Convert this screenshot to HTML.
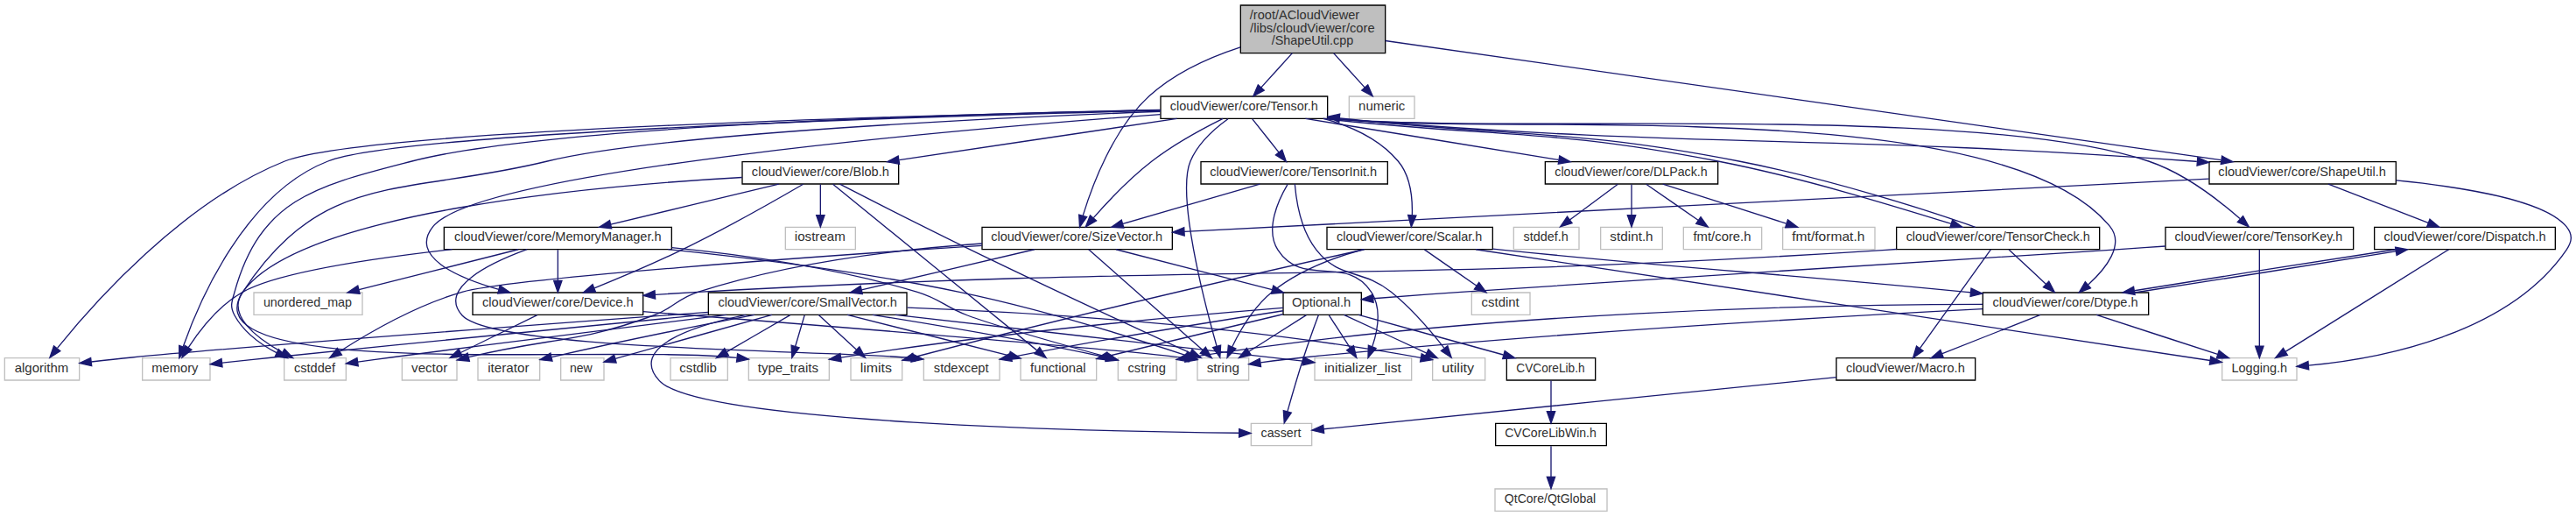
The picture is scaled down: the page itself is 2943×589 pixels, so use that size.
<!DOCTYPE html>
<html><head><meta charset="utf-8"><title>ShapeUtil.cpp include dependency graph</title>
<style>
html,body{margin:0;padding:0;background:#fff;}
body{width:2943px;height:589px;overflow:hidden;}
svg{display:block;}
text{font-family:"Liberation Sans",sans-serif;font-size:10.3px;fill:#303030;text-anchor:middle;}
.e path{fill:none;stroke:#191970;stroke-width:1;}
.e polygon{fill:#191970;stroke:#191970;stroke-width:1;}
</style></head><body>
<svg width="2943" height="589" viewBox="0 0 2207.25 441.75">
<rect x="0" y="0" width="2207.25" height="441.75" fill="#fff"/>
<g transform="translate(4 438)">
<g class="n">
<polygon fill="#bfbfbf" stroke="black" points="1059,-392.5 1059,-433.5 1183,-433.5 1183,-392.5 1059,-392.5"/>
<text lengthAdjust="spacingAndGlyphs" x="1113.88" y="-421.5" textLength="94.07">/root/ACloudViewer</text>
<text lengthAdjust="spacingAndGlyphs" x="1120.48" y="-410.5" textLength="106.88">/libs/cloudViewer/core</text>
<text lengthAdjust="spacingAndGlyphs" x="1120.62" y="-399.5" textLength="70.06">/ShapeUtil.cpp</text>
<polygon fill="white" stroke="black" points="1889,-280.5 1889,-299.5 2049,-299.5 2049,-280.5 1889,-280.5"/>
<text lengthAdjust="spacingAndGlyphs" x="1968.62" y="-287.5" textLength="143.73">cloudViewer/core/ShapeUtil.h</text>
<polygon fill="white" stroke="black" points="837.5,-224.5 837.5,-243.5 1000.5,-243.5 1000.5,-224.5 837.5,-224.5"/>
<text lengthAdjust="spacingAndGlyphs" x="918.62" y="-231.5" textLength="147">cloudViewer/core/SizeVector.h</text>
<polygon fill="white" stroke="#bfbfbf" points="1152,-336.5 1152,-355.5 1208,-355.5 1208,-336.5 1152,-336.5"/>
<text lengthAdjust="spacingAndGlyphs" x="1180" y="-343.5" textLength="39.81">numeric</text>
<polygon fill="white" stroke="black" points="990.5,-336.5 990.5,-355.5 1133.5,-355.5 1133.5,-336.5 990.5,-336.5"/>
<text lengthAdjust="spacingAndGlyphs" x="1062" y="-343.5" textLength="126.76">cloudViewer/core/Tensor.h</text>
<polygon fill="white" stroke="#bfbfbf" points="1900,-112.5 1900,-131.5 1964,-131.5 1964,-112.5 1900,-112.5"/>
<text lengthAdjust="spacingAndGlyphs" x="1932" y="-119.5" textLength="47.81">Logging.h</text>
<polygon fill="white" stroke="black" points="2030.5,-224.5 2030.5,-243.5 2185.5,-243.5 2185.5,-224.5 2030.5,-224.5"/>
<text lengthAdjust="spacingAndGlyphs" x="2108" y="-231.5" textLength="138.91">cloudViewer/core/Dispatch.h</text>
<polygon fill="white" stroke="black" points="1695,-168.5 1695,-187.5 1837,-187.5 1837,-168.5 1695,-168.5"/>
<text lengthAdjust="spacingAndGlyphs" x="1765.62" y="-175.5" textLength="124.67">cloudViewer/core/Dtype.h</text>
<polygon fill="white" stroke="#bfbfbf" points="954,-112.5 954,-131.5 1004,-131.5 1004,-112.5 954,-112.5"/>
<text lengthAdjust="spacingAndGlyphs" x="978.62" y="-119.5" textLength="32.5">cstring</text>
<polygon fill="white" stroke="#bfbfbf" points="1022,-112.5 1022,-131.5 1066,-131.5 1066,-112.5 1022,-112.5"/>
<text lengthAdjust="spacingAndGlyphs" x="1044" y="-119.5" textLength="27.9">string</text>
<polygon fill="white" stroke="black" points="1569.5,-112.5 1569.5,-131.5 1688.5,-131.5 1688.5,-112.5 1569.5,-112.5"/>
<text lengthAdjust="spacingAndGlyphs" x="1628.62" y="-119.5" textLength="101.89">cloudViewer/Macro.h</text>
<polygon fill="white" stroke="#bfbfbf" points="1068,-56.5 1068,-75.5 1120,-75.5 1120,-56.5 1068,-56.5"/>
<text lengthAdjust="spacingAndGlyphs" x="1093.62" y="-63.5" textLength="34.47">cassert</text>
<polygon fill="white" stroke="black" points="1095.5,-168.5 1095.5,-187.5 1162.5,-187.5 1162.5,-168.5 1095.5,-168.5"/>
<text lengthAdjust="spacingAndGlyphs" x="1128.25" y="-175.5" textLength="50.35">Optional.h</text>
<polygon fill="white" stroke="#bfbfbf" points="239.5,-112.5 239.5,-131.5 292.5,-131.5 292.5,-112.5 239.5,-112.5"/>
<text lengthAdjust="spacingAndGlyphs" x="265.62" y="-119.5" textLength="35.21">cstddef</text>
<polygon fill="white" stroke="#bfbfbf" points="340.5,-112.5 340.5,-131.5 387.5,-131.5 387.5,-112.5 340.5,-112.5"/>
<text lengthAdjust="spacingAndGlyphs" x="364" y="-119.5" textLength="30.83">vector</text>
<polygon fill="white" stroke="black" points="603,-168.5 603,-187.5 773,-187.5 773,-168.5 603,-168.5"/>
<text lengthAdjust="spacingAndGlyphs" x="688" y="-175.5" textLength="153.3">cloudViewer/core/SmallVector.h</text>
<polygon fill="white" stroke="black" points="1287,-112.5 1287,-131.5 1363,-131.5 1363,-112.5 1287,-112.5"/>
<text lengthAdjust="spacingAndGlyphs" x="1324.62" y="-119.5" textLength="58.72">CVCoreLib.h</text>
<polygon fill="white" stroke="#bfbfbf" points="870.5,-112.5 870.5,-131.5 935.5,-131.5 935.5,-112.5 870.5,-112.5"/>
<text lengthAdjust="spacingAndGlyphs" x="902.62" y="-119.5" textLength="47.61">functional</text>
<polygon fill="white" stroke="#bfbfbf" points="1122.5,-112.5 1122.5,-131.5 1205.5,-131.5 1205.5,-112.5 1122.5,-112.5"/>
<text lengthAdjust="spacingAndGlyphs" x="1163.62" y="-119.5" textLength="65.89">initializer_list</text>
<polygon fill="white" stroke="#bfbfbf" points="787.5,-112.5 787.5,-131.5 852.5,-131.5 852.5,-112.5 787.5,-112.5"/>
<text lengthAdjust="spacingAndGlyphs" x="819.62" y="-119.5" textLength="46.99">stdexcept</text>
<polygon fill="white" stroke="#bfbfbf" points="637.5,-112.5 637.5,-131.5 706.5,-131.5 706.5,-112.5 637.5,-112.5"/>
<text lengthAdjust="spacingAndGlyphs" x="671.25" y="-119.5" textLength="51.91">type_traits</text>
<polygon fill="white" stroke="#bfbfbf" points="1223.5,-112.5 1223.5,-131.5 1268.5,-131.5 1268.5,-112.5 1223.5,-112.5"/>
<text lengthAdjust="spacingAndGlyphs" x="1245.25" y="-119.5" textLength="27.64">utility</text>
<polygon fill="white" stroke="black" points="1277.5,-56.5 1277.5,-75.5 1372.5,-75.5 1372.5,-56.5 1277.5,-56.5"/>
<text lengthAdjust="spacingAndGlyphs" x="1324.62" y="-63.5" textLength="78.48">CVCoreLibWin.h</text>
<polygon fill="white" stroke="#bfbfbf" points="1277,-0.5 1277,-19.5 1373,-19.5 1373,-0.5 1277,-0.5"/>
<text lengthAdjust="spacingAndGlyphs" x="1324.25" y="-7.5" textLength="78.2">QtCore/QtGlobal</text>
<polygon fill="white" stroke="#bfbfbf" points="0,-112.5 0,-131.5 64,-131.5 64,-112.5 0,-112.5"/>
<text lengthAdjust="spacingAndGlyphs" x="31.62" y="-119.5" textLength="46.16">algorithm</text>
<polygon fill="white" stroke="#bfbfbf" points="570.5,-112.5 570.5,-131.5 619.5,-131.5 619.5,-112.5 570.5,-112.5"/>
<text lengthAdjust="spacingAndGlyphs" x="594.25" y="-119.5" textLength="31.96">cstdlib</text>
<polygon fill="white" stroke="#bfbfbf" points="405.5,-112.5 405.5,-131.5 458.5,-131.5 458.5,-112.5 405.5,-112.5"/>
<text lengthAdjust="spacingAndGlyphs" x="431.62" y="-119.5" textLength="35.45">iterator</text>
<polygon fill="white" stroke="#bfbfbf" points="725,-112.5 725,-131.5 769,-131.5 769,-112.5 725,-112.5"/>
<text lengthAdjust="spacingAndGlyphs" x="746.62" y="-119.5" textLength="27.19">limits</text>
<polygon fill="white" stroke="#bfbfbf" points="118,-112.5 118,-131.5 176,-131.5 176,-112.5 118,-112.5"/>
<text lengthAdjust="spacingAndGlyphs" x="145.88" y="-119.5" textLength="39.86">memory</text>
<polygon fill="white" stroke="#bfbfbf" points="476.5,-112.5 476.5,-131.5 513.5,-131.5 513.5,-112.5 476.5,-112.5"/>
<text lengthAdjust="spacingAndGlyphs" x="493.88" y="-119.5" textLength="19.34">new</text>
<polygon fill="white" stroke="black" points="632,-280.5 632,-299.5 766,-299.5 766,-280.5 632,-280.5"/>
<text lengthAdjust="spacingAndGlyphs" x="699" y="-287.5" textLength="117.7">cloudViewer/core/Blob.h</text>
<polygon fill="white" stroke="black" points="401,-168.5 401,-187.5 547,-187.5 547,-168.5 401,-168.5"/>
<text lengthAdjust="spacingAndGlyphs" x="474" y="-175.5" textLength="129.46">cloudViewer/core/Device.h</text>
<polygon fill="white" stroke="black" points="1320,-280.5 1320,-299.5 1468,-299.5 1468,-280.5 1320,-280.5"/>
<text lengthAdjust="spacingAndGlyphs" x="1393.62" y="-287.5" textLength="130.72">cloudViewer/core/DLPack.h</text>
<polygon fill="white" stroke="black" points="1133,-224.5 1133,-243.5 1275,-243.5 1275,-224.5 1133,-224.5"/>
<text lengthAdjust="spacingAndGlyphs" x="1203.62" y="-231.5" textLength="124.7">cloudViewer/core/Scalar.h</text>
<polygon fill="white" stroke="black" points="1621,-224.5 1621,-243.5 1795,-243.5 1795,-224.5 1621,-224.5"/>
<text lengthAdjust="spacingAndGlyphs" x="1708" y="-231.5" textLength="157.55">cloudViewer/core/TensorCheck.h</text>
<polygon fill="white" stroke="black" points="1025,-280.5 1025,-299.5 1185,-299.5 1185,-280.5 1025,-280.5"/>
<text lengthAdjust="spacingAndGlyphs" x="1104.25" y="-287.5" textLength="143.19">cloudViewer/core/TensorInit.h</text>
<polygon fill="white" stroke="black" points="1851.5,-224.5 1851.5,-243.5 2012.5,-243.5 2012.5,-224.5 1851.5,-224.5"/>
<text lengthAdjust="spacingAndGlyphs" x="1931.25" y="-231.5" textLength="143.89">cloudViewer/core/TensorKey.h</text>
<polygon fill="white" stroke="#bfbfbf" points="669,-224.5 669,-243.5 729,-243.5 729,-224.5 669,-224.5"/>
<text lengthAdjust="spacingAndGlyphs" x="698.62" y="-231.5" textLength="43.46">iostream</text>
<polygon fill="white" stroke="black" points="376.5,-224.5 376.5,-243.5 571.5,-243.5 571.5,-224.5 376.5,-224.5"/>
<text lengthAdjust="spacingAndGlyphs" x="474" y="-231.5" textLength="177.46">cloudViewer/core/MemoryManager.h</text>
<polygon fill="white" stroke="#bfbfbf" points="213.5,-168.5 213.5,-187.5 306.5,-187.5 306.5,-168.5 213.5,-168.5"/>
<text lengthAdjust="spacingAndGlyphs" x="259.62" y="-175.5" textLength="75.88">unordered_map</text>
<polygon fill="white" stroke="#bfbfbf" points="1293,-224.5 1293,-243.5 1349,-243.5 1349,-224.5 1293,-224.5"/>
<text lengthAdjust="spacingAndGlyphs" x="1320.62" y="-231.5" textLength="38.41">stddef.h</text>
<polygon fill="white" stroke="#bfbfbf" points="1367.5,-224.5 1367.5,-243.5 1420.5,-243.5 1420.5,-224.5 1367.5,-224.5"/>
<text lengthAdjust="spacingAndGlyphs" x="1394" y="-231.5" textLength="36.96">stdint.h</text>
<polygon fill="white" stroke="#bfbfbf" points="1438.5,-224.5 1438.5,-243.5 1505.5,-243.5 1505.5,-224.5 1438.5,-224.5"/>
<text lengthAdjust="spacingAndGlyphs" x="1471.62" y="-231.5" textLength="49.53">fmt/core.h</text>
<polygon fill="white" stroke="#bfbfbf" points="1523.5,-224.5 1523.5,-243.5 1602.5,-243.5 1602.5,-224.5 1523.5,-224.5"/>
<text lengthAdjust="spacingAndGlyphs" x="1562.62" y="-231.5" textLength="62.4">fmt/format.h</text>
<polygon fill="white" stroke="#bfbfbf" points="1257,-168.5 1257,-187.5 1307,-187.5 1307,-168.5 1257,-168.5"/>
<text lengthAdjust="spacingAndGlyphs" x="1281.62" y="-175.5" textLength="32.31">cstdint</text>
</g>
<g class="e">
<path d="M1183.01,-403.15C1337.13,-381.16 1736.74,-324.14 1898.99,-300.99"/><polygon points="1899.92,-304.39 1909.33,-299.51 1898.94,-297.46 1899.92,-304.39"/>
<path d="M1058.87,-397.64C1032.44,-389.05 1002.77,-375.83 981,-356 949.7,-327.49 931.82,-279.52 923.93,-253.37"/><polygon points="927.25,-252.27 921.14,-243.61 920.52,-254.19 927.25,-252.27"/>
<path d="M1138.7,-392.5C1147.23,-383.11 1157.32,-371.98 1165.4,-363.08"/><polygon points="1168.02,-365.41 1172.15,-355.65 1162.83,-360.7 1168.02,-365.41"/>
<path d="M1103.3,-392.5C1094.77,-383.11 1084.68,-371.98 1076.6,-363.08"/><polygon points="1079.17,-360.7 1069.85,-355.65 1073.98,-365.41 1079.17,-360.7"/>
<path d="M2049.24,-283.6C2106.54,-277.88 2176.6,-266.42 2195,-244 2200.64,-237.13 2200.03,-231.33 2195,-224 2144.99,-151.22 2034.69,-130.86 1974.03,-125.18"/><polygon points="1974.28,-121.69 1964.02,-124.34 1973.69,-128.67 1974.28,-121.69"/>
<path d="M1991.02,-280.44C2014.1,-271.48 2050.56,-257.31 2076.64,-247.18"/><polygon points="2078.02,-250.4 2086.08,-243.52 2075.49,-243.88 2078.02,-250.4"/>
<path d="M1888.79,-284.87C1697.14,-275.02 1213.58,-250.15 1010.76,-239.72"/><polygon points="1010.9,-236.22 1000.74,-239.2 1010.54,-243.21 1010.9,-236.22"/>
<path d="M2094.19,-224.37C2063.86,-205.41 1991.2,-160 1954.31,-136.94"/><polygon points="1956.08,-133.92 1945.75,-131.59 1952.37,-139.86 1956.08,-133.92"/>
<path d="M2048.72,-224.44C1985.96,-214.87 1887.62,-199.36 1824.98,-189.17"/><polygon points="1825.29,-185.67 1814.86,-187.52 1824.16,-192.58 1825.29,-185.67"/>
<path d="M1792.3,-168.44C1820.35,-159.32 1864.94,-144.81 1896.18,-134.65"/><polygon points="1897.39,-137.94 1905.82,-131.52 1895.23,-131.28 1897.39,-137.94"/>
<path d="M1825.02,-187.52C1887.68,-197.08 1986.02,-212.59 2048.76,-222.79"/><polygon points="2048.46,-226.29 2058.9,-224.44 2049.59,-219.38 2048.46,-226.29"/>
<path d="M1694.89,-177.44C1562.47,-177.25 1269.13,-172.01 1014.32,-131.88"/><polygon points="1014.56,-128.37 1004.13,-130.25 1013.45,-135.28 1014.56,-128.37"/>
<path d="M1694.86,-173.52C1574.75,-167.32 1324.17,-153.03 1113,-132 1100.94,-130.8 1087.74,-129.16 1076.14,-127.61"/><polygon points="1076.41,-124.11 1066.02,-126.22 1075.46,-131.04 1076.41,-124.11"/>
<path d="M1744.29,-168.44C1721.65,-159.52 1685.93,-145.44 1660.25,-135.32"/><polygon points="1661.19,-131.93 1650.61,-131.52 1658.63,-138.44 1661.19,-131.93"/>
<path d="M1569.44,-114.99C1457.97,-103.74 1220.89,-79.81 1130.26,-70.66"/><polygon points="1130.5,-67.17 1120.2,-69.64 1129.8,-74.13 1130.5,-67.17"/>
<path d="M928.81,-224.37C949.89,-205.81 999.78,-161.91 1026.46,-138.44"/><polygon points="1029.04,-140.83 1034.24,-131.59 1024.42,-135.57 1029.04,-140.83"/>
<path d="M952.28,-224.44C988.45,-215.14 1046.38,-200.25 1085.98,-190.06"/><polygon points="1087.07,-193.4 1095.88,-187.52 1085.32,-186.62 1087.07,-193.4"/>
<path d="M837.35,-227.78C700.01,-218.75 433.61,-200 392,-188 352.75,-176.68 311.43,-152.72 287.23,-137.26"/><polygon points="288.83,-134.13 278.54,-131.61 285.01,-140 288.83,-134.13"/>
<path d="M837.47,-229.53C770.67,-224.85 674.39,-213.84 594,-188 575.83,-182.16 573.91,-174.6 556,-168 490.54,-143.89 468.55,-149.33 397.59,-132.26"/><polygon points="398.28,-128.83 387.73,-129.82 396.6,-135.62 398.28,-128.83"/>
<path d="M882.4,-224.44C842.27,-215.06 777.8,-199.99 734.22,-189.8"/><polygon points="734.97,-186.38 724.43,-187.52 733.37,-193.2 734.97,-186.38"/>
<path d="M1115.34,-168.32C1102.08,-159.9 1081.73,-146.97 1066.15,-137.07"/><polygon points="1067.94,-134.06 1057.62,-131.65 1064.19,-139.97 1067.94,-134.06"/>
<path d="M1125.79,-168.42C1122.44,-159.41 1117.14,-144.78 1113,-132 1107.97,-116.44 1102.79,-98.61 1099.12,-85.56"/><polygon points="1102.48,-84.57 1096.42,-75.88 1095.74,-86.45 1102.48,-84.57"/>
<path d="M1160.06,-168.44C1193.6,-159.2 1247.2,-144.44 1284.14,-134.26"/><polygon points="1285.38,-137.55 1294.09,-131.52 1283.52,-130.8 1285.38,-137.55"/>
<path d="M1095.17,-168.92C1055.27,-159.38 988.9,-143.53 945.55,-133.17"/><polygon points="946.14,-129.71 935.6,-130.79 944.51,-136.52 946.14,-129.71"/>
<path d="M1134.78,-168.08C1139.67,-160.53 1146.83,-149.49 1152.83,-140.23"/><polygon points="1155.83,-142.05 1158.33,-131.75 1149.95,-138.24 1155.83,-142.05"/>
<path d="M1095.48,-171.92C1046.48,-164.37 952.2,-149.41 862.69,-132.26"/><polygon points="863.13,-128.78 852.64,-130.32 861.8,-135.65 863.13,-128.78"/>
<path d="M1095.4,-174.41C1026.43,-168.86 863.73,-154.59 716.64,-131.95"/><polygon points="716.95,-128.46 706.53,-130.38 715.88,-135.38 716.95,-128.46"/>
<path d="M1147.54,-168.44C1166.62,-159.64 1196.57,-145.81 1218.44,-135.72"/><polygon points="1219.93,-138.88 1227.55,-131.52 1217,-132.53 1219.93,-138.88"/>
<path d="M1325,-112.08C1325,-105.01 1325,-94.86 1325,-85.99"/><polygon points="1328.5,-85.75 1325,-75.75 1321.5,-85.75 1328.5,-85.75"/>
<path d="M1325,-56.08C1325,-49.01 1325,-38.86 1325,-29.99"/><polygon points="1328.5,-29.75 1325,-19.75 1321.5,-29.75 1328.5,-29.75"/>
<path d="M743.67,-168.49C795.69,-160.24 875.41,-146.82 944,-132 944.1,-131.98 944.2,-131.96 944.3,-131.94"/><polygon points="944.87,-135.4 953.82,-129.72 943.29,-128.58 944.87,-135.4"/>
<path d="M635.21,-168.47C589.45,-158.93 534.43,-140.9 561,-112 594.55,-75.49 943.12,-68.58 1057.71,-67.29"/><polygon points="1057.78,-70.79 1067.74,-67.19 1057.71,-63.79 1057.78,-70.79"/>
<path d="M722.07,-168.44C759.62,-159.01 820.06,-143.83 860.64,-133.64"/><polygon points="861.65,-136.99 870.5,-131.16 859.95,-130.2 861.65,-136.99"/>
<path d="M763.16,-168.47C860.61,-157.42 1028.04,-138.42 1112.33,-128.86"/><polygon points="1112.89,-132.32 1122.43,-127.72 1112.1,-125.37 1112.89,-132.32"/>
<path d="M685.36,-168.08C683.21,-160.85 680.12,-150.41 677.45,-141.4"/><polygon points="680.79,-140.34 674.59,-131.75 674.08,-142.33 680.79,-140.34"/>
<path d="M773.38,-174.64C875.83,-170.71 1052.81,-160.37 1213.34,-131.75"/><polygon points="1214.18,-135.15 1223.4,-129.93 1212.93,-128.27 1214.18,-135.15"/>
<path d="M618.53,-168.5C546.56,-159.63 430.86,-145.21 331,-132 321.81,-130.78 311.89,-129.43 302.64,-128.15"/><polygon points="302.94,-124.66 292.56,-126.75 301.98,-131.59 302.94,-124.66"/>
<path d="M602.74,-170.78C465.69,-160.72 202.33,-141.08 109,-132 97.72,-130.9 85.53,-129.55 74.24,-128.24"/><polygon points="74.53,-124.75 64.19,-127.04 73.71,-131.7 74.53,-124.75"/>
<path d="M673.06,-168.32C658.41,-159.82 635.87,-146.73 618.76,-136.8"/><polygon points="620.31,-133.65 609.9,-131.65 616.8,-139.7 620.31,-133.65"/>
<path d="M642.57,-168.45C599.97,-160.28 534.28,-147.27 468.8,-132.33"/><polygon points="469.25,-128.85 458.72,-130.02 467.68,-135.67 469.25,-128.85"/>
<path d="M697.48,-168.32C706.2,-160.34 719.34,-148.31 729.9,-138.65"/><polygon points="732.33,-141.17 737.35,-131.83 727.61,-136 732.33,-141.17"/>
<path d="M602.72,-168.88C510.72,-160.06 359.94,-145.43 230,-132 215.75,-130.53 200.14,-128.85 186.34,-127.35"/><polygon points="186.51,-123.85 176.19,-126.24 185.75,-130.8 186.51,-123.85"/>
<path d="M657.42,-168.44C620.56,-158.13 559.13,-140.94 523.31,-130.92"/><polygon points="524.08,-127.5 513.5,-128.18 522.19,-134.24 524.08,-127.5"/>
<path d="M1133.53,-336.81C1136.73,-336.52 1139.9,-336.25 1143,-336 1467.69,-310 1550.12,-323.53 1875,-300 1876.12,-299.92 1877.26,-299.84 1878.39,-299.75"/><polygon points="1879.07,-303.21 1888.77,-298.93 1878.52,-296.23 1879.07,-303.21"/>
<path d="M1133.55,-336.97C1136.74,-336.64 1139.9,-336.31 1143,-336 1290.56,-321.13 1710.69,-359.27 1804,-244 1816.63,-228.4 1800.43,-208.13 1785.45,-194.4"/><polygon points="1787.31,-191.38 1777.44,-187.52 1782.75,-196.69 1787.31,-191.38"/>
<path d="M1048.21,-336.19C1037.17,-328.24 1022.5,-315.45 1016,-300 1004.04,-271.56 1027.42,-180.93 1038.56,-141.56"/><polygon points="1041.94,-142.48 1041.34,-131.91 1035.21,-140.55 1041.94,-142.48"/>
<path d="M1043.87,-336.48C1027.27,-328.26 1002.4,-314.91 983,-300 964.08,-285.45 945.25,-265.5 932.97,-251.56"/><polygon points="935.41,-249.03 926.22,-243.75 930.11,-253.6 935.41,-249.03"/>
<path d="M990.35,-342.55C854.15,-337.41 562.74,-323.95 465,-300 342.4,-269.96 273.46,-293.4 204,-188 153.28,-111.05 511.19,-143.44 627.33,-131.69"/><polygon points="627.98,-135.14 637.48,-130.46 627.13,-128.19 627.98,-135.14"/>
<path d="M990.35,-343.91C834.42,-340.99 468.71,-330.96 349,-300 267.76,-278.99 219.61,-268.81 197,-188 194.6,-179.44 192.77,-175.82 197,-168 204.75,-153.7 219.23,-143.22 232.94,-135.99"/><polygon points="234.74,-139.01 242.21,-131.5 231.69,-132.71 234.74,-139.01"/>
<path d="M990.39,-343.69C803.14,-339.91 308.65,-327.41 240,-300 152.31,-264.99 75.19,-177.35 45.25,-140.14"/><polygon points="47.63,-137.5 38.68,-131.83 42.14,-141.85 47.63,-137.5"/>
<path d="M990.38,-343.4C809.21,-339.01 342.44,-325.34 277,-300 206.15,-272.56 166.83,-180.6 152.89,-141.18"/><polygon points="156.15,-139.9 149.62,-131.56 149.52,-142.15 156.15,-139.9"/>
<path d="M1004.48,-336.44C939.83,-326.83 834.97,-311.23 766.5,-301.04"/><polygon points="766.66,-297.53 756.25,-299.52 765.63,-304.45 766.66,-297.53"/>
<path d="M990.27,-340.03C820.59,-327.51 405.82,-292.23 367,-244 346.61,-218.66 386.61,-200.74 423.37,-190.22"/><polygon points="424.37,-193.57 433.1,-187.58 422.53,-186.82 424.37,-193.57"/>
<path d="M1114.61,-336.44C1173.49,-326.87 1268.85,-311.36 1331.49,-301.17"/><polygon points="1332.33,-304.58 1341.64,-299.52 1331.21,-297.67 1332.33,-304.58"/>
<path d="M1129.93,-336.47C1153.49,-330.13 1177.98,-319.11 1194,-300 1204.65,-287.29 1206.43,-268.09 1205.99,-253.85"/><polygon points="1209.47,-253.44 1205.27,-243.71 1202.48,-253.93 1209.47,-253.44"/>
<path d="M1129.74,-336.47C1131.17,-336.31 1132.59,-336.15 1134,-336 1282.42,-319.76 1321.41,-328.32 1468,-300 1539.22,-286.24 1620.42,-261.13 1667.91,-246.47"/><polygon points="1668.99,-249.8 1677.52,-243.51 1666.93,-243.11 1668.99,-249.8"/>
<path d="M1069.1,-336.08C1075.24,-328.38 1084.27,-317.03 1091.74,-307.65"/><polygon points="1094.54,-309.75 1098.03,-299.75 1089.06,-305.39 1094.54,-309.75"/>
<path d="M1133.53,-336.82C1136.73,-336.53 1139.9,-336.25 1143,-336 1296.92,-323.47 1690.7,-349.45 1837,-300 1867.59,-289.66 1897.4,-266.48 1915.24,-250.79"/><polygon points="1917.92,-253.08 1922.99,-243.78 1913.22,-247.89 1917.92,-253.08"/>
<path d="M715.62,-280.43C740.11,-267.84 787.39,-243.72 828,-224 895.05,-191.44 974.64,-154.71 1015.96,-135.79"/><polygon points="1017.49,-138.94 1025.13,-131.6 1014.58,-132.57 1017.49,-138.94"/>
<path d="M709.68,-280.31C742.59,-253.53 842.74,-172.03 884.46,-138.09"/><polygon points="886.88,-140.63 892.43,-131.61 882.46,-135.2 886.88,-140.63"/>
<path d="M631.79,-286.12C508.22,-279.2 253.05,-256.71 204,-188 189.98,-168.37 215.54,-148.73 237.97,-136.26"/><polygon points="239.73,-139.29 246.95,-131.53 236.47,-133.09 239.73,-139.29"/>
<path d="M699,-280.08C699,-273.01 699,-262.86 699,-253.99"/><polygon points="702.5,-253.75 699,-243.75 695.5,-253.75 702.5,-253.75"/>
<path d="M684.22,-280.31C661.96,-267.37 618.35,-242.56 580,-224 555.3,-212.05 526.61,-199.97 505.32,-191.35"/><polygon points="506.38,-188 495.8,-187.52 503.77,-194.5 506.38,-188"/>
<path d="M663.35,-280.44C624.34,-271.08 561.73,-256.06 519.28,-245.87"/><polygon points="520.03,-242.45 509.49,-243.52 518.39,-249.25 520.03,-242.45"/>
<path d="M547.12,-171.28C679.44,-160.89 950.03,-139.38 1011.71,-131.53"/><polygon points="1012.4,-134.96 1021.78,-130.03 1011.37,-128.04 1012.4,-134.96"/>
<path d="M456.33,-168.32C438.61,-159.62 411.1,-146.12 390.71,-136.11"/><polygon points="392.15,-132.92 381.63,-131.65 389.06,-139.2 392.15,-132.92"/>
<path d="M571.63,-226.03C632.99,-219.87 713.26,-208.53 782,-188 802.2,-181.97 805.27,-175.42 825,-168 846.78,-159.81 905.72,-143.14 944.04,-132.55"/><polygon points="945.07,-135.9 953.78,-129.87 943.21,-129.15 945.07,-135.9"/>
<path d="M568.44,-224.49C637.92,-217.3 734.41,-205.37 818,-188 888.31,-173.39 968.7,-148.17 1012.12,-133.82"/><polygon points="1013.44,-137.07 1021.82,-130.59 1011.23,-130.42 1013.44,-137.07"/>
<path d="M447.6,-224.46C416.24,-213 370.71,-191.37 392,-168 419.48,-137.84 703.05,-138.37 776.77,-131.64"/><polygon points="777.53,-135.08 787.05,-130.44 776.72,-128.13 777.53,-135.08"/>
<path d="M383.4,-224.49C317.29,-217.05 234.21,-204.82 204,-188 183.8,-176.75 167.27,-155.51 157.31,-140.37"/><polygon points="160.26,-138.49 151.98,-131.88 154.33,-142.21 160.26,-138.49"/>
<path d="M474,-224.08C474,-217.01 474,-206.86 474,-197.99"/><polygon points="477.5,-197.75 474,-187.75 470.5,-197.75 477.5,-197.75"/>
<path d="M440.09,-224.44C403.15,-215.12 343.95,-200.18 303.58,-190"/><polygon points="304.3,-186.57 293.75,-187.52 302.59,-193.36 304.3,-186.57"/>
<path d="M1382.27,-280.32C1371.16,-272.11 1354.26,-259.6 1341.02,-249.81"/><polygon points="1343.06,-246.97 1332.94,-243.83 1338.9,-252.59 1343.06,-246.97"/>
<path d="M1394,-280.08C1394,-273.01 1394,-262.86 1394,-253.99"/><polygon points="1397.5,-253.75 1394,-243.75 1390.5,-253.75 1397.5,-253.75"/>
<path d="M1406.53,-280.32C1418.59,-271.98 1437.03,-259.21 1451.27,-249.35"/><polygon points="1453.27,-252.22 1459.5,-243.65 1449.28,-246.47 1453.27,-252.22"/>
<path d="M1420.78,-280.44C1449.33,-271.32 1494.73,-256.81 1526.54,-246.65"/><polygon points="1527.89,-249.89 1536.35,-243.52 1525.76,-243.23 1527.89,-249.89"/>
<path d="M1260.52,-224.46C1401.38,-203.18 1765.63,-148.14 1889.81,-129.38"/><polygon points="1890.33,-132.84 1899.7,-127.88 1889.29,-125.91 1890.33,-132.84"/>
<path d="M1275.09,-224.92C1278.1,-224.61 1281.08,-224.3 1284,-224 1460.26,-206.1 1504.68,-205.33 1681,-188 1682.11,-187.89 1683.22,-187.78 1684.35,-187.67"/><polygon points="1684.99,-191.12 1694.59,-186.64 1684.29,-184.16 1684.99,-191.12"/>
<path d="M1163.87,-224.45C1139.39,-217.7 1108.58,-206.28 1086,-188 1070.54,-175.48 1058.91,-155.7 1051.86,-141.24"/><polygon points="1054.89,-139.47 1047.54,-131.84 1048.53,-142.39 1054.89,-139.47"/>
<path d="M1165.07,-224.45C1091.56,-208.16 927.12,-171.02 779.04,-132.18"/><polygon points="779.88,-128.78 769.31,-129.62 778.09,-135.55 779.88,-128.78"/>
<path d="M1216.53,-224.32C1228.59,-215.98 1247.03,-203.21 1261.27,-193.35"/><polygon points="1263.27,-196.22 1269.5,-187.65 1259.28,-190.47 1263.27,-196.22"/>
<path d="M1717.32,-224.32C1725.89,-216.34 1738.81,-204.31 1749.19,-194.65"/><polygon points="1751.58,-197.21 1756.51,-187.83 1746.81,-192.09 1751.58,-197.21"/>
<path d="M1701.8,-224.37C1688.76,-206.22 1658.3,-163.8 1641.2,-139.99"/><polygon points="1643.85,-137.67 1635.17,-131.59 1638.16,-141.76 1643.85,-137.67"/>
<path d="M1688.56,-243.51C1650.02,-257.5 1562.29,-285.26 1486,-300 1339.41,-328.32 1300.42,-319.76 1152,-336 1149.32,-336.29 1146.6,-336.59 1143.84,-336.89"/><polygon points="1143.31,-333.43 1133.75,-338 1144.07,-340.39 1143.31,-333.43"/>
<path d="M1620.9,-224.61C1617.9,-224.39 1614.92,-224.19 1612,-224 1160.21,-194.86 1046.04,-212.93 594,-188 582.18,-187.35 569.72,-186.54 557.48,-185.69"/><polygon points="557.49,-182.18 547.27,-184.96 556.99,-189.16 557.49,-182.18"/>
<path d="M1075.53,-280.44C1043.83,-271.24 993.27,-256.56 958.23,-246.39"/><polygon points="958.91,-242.94 948.33,-243.52 956.96,-249.67 958.91,-242.94"/>
<path d="M1099.31,-280.27C1091.48,-267.05 1079.59,-241.64 1091,-224 1112.17,-191.26 1149.83,-220.74 1171,-188 1179.94,-174.18 1176.5,-155.15 1171.84,-141.26"/><polygon points="1175.07,-139.9 1168.23,-131.81 1168.53,-142.4 1175.07,-139.9"/>
<path d="M1105.47,-280.49C1106.61,-267.11 1110.54,-240.94 1124,-224 1144.3,-198.45 1162.57,-208.45 1188,-188 1205.6,-173.85 1222.39,-154.1 1233.34,-140.09"/><polygon points="1236.36,-141.9 1239.64,-131.83 1230.79,-137.66 1236.36,-141.9"/>
<path d="M1932,-224.37C1932,-206.62 1932,-165.67 1932,-141.6"/><polygon points="1935.5,-141.59 1932,-131.59 1928.5,-141.59 1935.5,-141.59"/>
<path d="M1851.43,-227.27C1835.7,-226.17 1819.34,-225.04 1804,-224 1556.93,-207.32 1495.02,-205.34 1248,-188 1223.11,-186.25 1195.3,-184.16 1172.83,-182.43"/><polygon points="1172.83,-178.92 1162.59,-181.64 1172.29,-185.9 1172.83,-178.92"/>
</g>
</g>
</svg>
</body></html>
